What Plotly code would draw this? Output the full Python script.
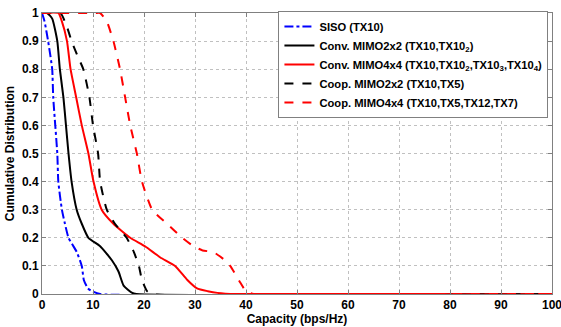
import plotly.graph_objects as go

# SISO (TX10)
siso_x = [0, 0.5, 1.2, 2.0, 2.2, 3.0, 3.2, 3.9, 4.5, 5.2, 6.8, 7.8, 8.2, 9.0, 9.8, 11.4, 100]
siso_y = [1, 0.97, 0.9, 0.8, 0.7, 0.5, 0.4, 0.3, 0.25, 0.2, 0.15, 0.1, 0.05, 0.02, 0.01, 0, 0]

# Conv. MIMO2x2
c22_x = [0, 1.0, 2.0, 3.0, 3.5, 4.2, 4.7, 5.2, 5.8, 6.8, 7.8, 9.1, 11.4, 13.7, 15.0, 16.0, 17.6, 18.5, 100]
c22_y = [1, 1, 0.98, 0.9, 0.8, 0.7, 0.6, 0.5, 0.4, 0.3, 0.25, 0.2, 0.17, 0.12, 0.08, 0.03, 0.005, 0, 0]

# Conv. MIMO4x4
c44_x = [0, 3.2, 3.9, 4.9, 5.6, 6.7, 7.8, 9.1, 10.1, 11.7, 14.0, 17.3, 20.2, 23.2, 26.1, 28.5, 30.4, 32.5, 34.4, 38.0, 100]
c44_y = [1, 1, 0.97, 0.9, 0.8, 0.7, 0.6, 0.5, 0.4, 0.3, 0.25, 0.2, 0.17, 0.13, 0.1, 0.05, 0.02, 0.01, 0.004, 0, 0]

# Coop. MIMO2x2
p22_x = [0, 3.6, 4.9, 5.8, 6.9, 8.1, 9.3, 10.0, 11.0, 11.4, 12.7, 14.3, 16.6, 18.0, 19.0, 19.6, 20.6, 21.6, 100]
p22_y = [1, 1, 0.95, 0.9, 0.85, 0.8, 0.7, 0.6, 0.5, 0.4, 0.3, 0.25, 0.2, 0.15, 0.1, 0.05, 0.01, 0, 0]

# Coop. MIMO4x4
p44_x = [0, 10.4, 11.4, 12.7, 14.0, 15.3, 16.3, 17.3, 18.6, 19.6, 21.6, 24.5, 27.5, 29.7, 31.5, 33.6, 35.6, 36.9, 38.9, 40.0, 41.5, 100]
p44_y = [1, 1, 1, 0.97, 0.9, 0.8, 0.7, 0.6, 0.5, 0.4, 0.3, 0.25, 0.2, 0.17, 0.155, 0.149, 0.124, 0.1, 0.04, 0.01, 0, 0]

x_ticks = [0, 10, 20, 30, 40, 50, 60, 70, 80, 90, 100]
y_ticks = [0, 0.1, 0.2, 0.3, 0.4, 0.5, 0.6, 0.7, 0.8, 0.9, 1]
y_labels = ["0", "0.1", "0.2", "0.3", "0.4", "0.5", "0.6", "0.7", "0.8", "0.9", "1"]

series = [
    ("SISO (TX10)", siso_x, siso_y, "#0000ff", "dashdot"),
    ("Conv. MIMO2x2 (TX10,TX10<sub>2</sub>)", c22_x, c22_y, "#000000", "solid"),
    ("Conv. MIMO4x4 (TX10,TX10<sub>2</sub>,TX10<sub>3</sub>,TX10<sub>4</sub>)", c44_x, c44_y, "#ff0000", "solid"),
    ("Coop. MIMO2x2 (TX10,TX5)", p22_x, p22_y, "#000000", "dash"),
    ("Coop. MIMO4x4 (TX10,TX5,TX12,TX7)", p44_x, p44_y, "#ff0000", "dash"),
]

fig = go.Figure()
for name, xs, ys, col, dash in series:
    fig.add_trace(go.Scatter(x=xs, y=ys, mode="lines", name=name,
                             line=dict(color=col, width=2, dash=dash, shape="spline", smoothing=0.5)))

fam = "Liberation Sans, Arial, sans-serif"
font = dict(family=fam, size=12, color="#000")
axis_common = dict(showline=True, linecolor="#808080", linewidth=1, mirror="ticks",
                   ticks="inside", ticklen=4, tickcolor="#808080",
                   showgrid=True, gridcolor="#c0c0c0", griddash="dot", gridwidth=1,
                   zeroline=False, automargin=False, ticklabeloverflow="allow",
                   tickfont=dict(family=fam, size=12, color="#000", weight="bold"))

fig.update_layout(
    width=561, height=327,
    margin=dict(l=42, r=9, t=13, b=33),
    paper_bgcolor="white", plot_bgcolor="white",
    font=font,
    showlegend=True,
    legend=dict(x=0.993, y=1.007, xanchor="right", yanchor="top",
                bgcolor="white", bordercolor="#808080", borderwidth=1,
                font=dict(family=fam, size=11.2, color="#000", weight="bold"),
                tracegroupgap=0, itemwidth=30),
    xaxis=dict(range=[0, 100], tickvals=x_ticks,
               title=dict(text="Capacity (bps/Hz)", standoff=2,
                          font=dict(family=fam, size=12, color="#000", weight="bold")),
               **axis_common),
    yaxis=dict(range=[0, 1], tickvals=y_ticks, ticktext=y_labels,
               title=dict(text="Cumulative Distribution", standoff=4,
                          font=dict(family=fam, size=12, color="#000", weight="bold")),
               **axis_common),
)

fig.write_html("out.html")
